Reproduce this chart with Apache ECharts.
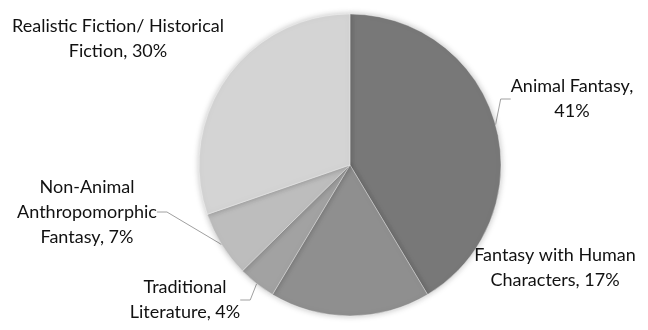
<!DOCTYPE html>
<html>
<head>
<meta charset="utf-8">
<script src="https://cdn.jsdelivr.net/npm/echarts@6/dist/echarts.min.js"></script>
<style>
  html, body { margin: 0; padding: 0; background: #ffffff; }
  #chart { width: 648px; height: 330px; }
</style>
</head>
<body>
<div id="chart"></div>
<script>
// Data (clockwise from 12 o'clock)
const categories = [
  'Animal Fantasy',
  'Fantasy with Human Characters',
  'Traditional Literature',
  'Non-Animal Anthropomorphic Fantasy',
  'Realistic Fiction/ Historical Fiction'
];
const values = [41, 17, 4, 7, 30];
// Label texts as shown (line breaks as in the picture)
const labelTexts = [
  'Animal Fantasy,\n41%',
  'Fantasy with Human\nCharacters, 17%',
  'Traditional\nLiterature, 4%',
  'Non-Animal\nAnthropomorphic\nFantasy, 7%',
  'Realistic Fiction/ Historical\nFiction, 30%'
];

// Styling
const sliceColors = ['#787878', '#8f8f8f', '#a2a2a2', '#bdbdbd', '#d4d4d4'];
const showLines = [true, false, true, true, false];
const labelSpots = [
  { x: 572, y: 99 },
  { x: 555, y: 268 },
  { x: 185, y: 300 },
  { x: 87, y: 212 },
  { x: 118, y: 39 }
];

const chart = echarts.init(document.getElementById('chart'), null, { renderer: 'canvas' });

const data = categories.map((name, i) => ({
  name: name,
  value: values[i],
  itemStyle: { color: sliceColors[i] },
  label: { formatter: labelTexts[i] },
  labelLine: { show: showLines[i] }
}));

chart.setOption({
  animation: false,
  backgroundColor: '#ffffff',
  series: [{
    type: 'pie',
    center: [350, 165],
    radius: 151,
    startAngle: 90,
    clockwise: true,
    data: data,
    itemStyle: {
      borderColor: 'rgba(255,255,255,0.45)',
      borderWidth: 0.8,
      shadowBlur: 6,
      shadowColor: 'rgba(0,0,0,0.25)'
    },
    label: {
      show: true,
      position: 'outside',
      fontFamily: 'Lato',
      fontSize: 18,
      lineHeight: 25,
      color: '#111111',
      align: 'center',
      overflow: 'none'
    },
    labelLine: {
      show: true,
      length: 10,
      length2: 10,
      lineStyle: { color: '#a0a0a0', width: 1 }
    },
    labelLayout: function (params) {
      const s = labelSpots[params.dataIndex];
      return { x: s.x, y: s.y, align: 'center', verticalAlign: 'middle' };
    },
    emphasis: { disabled: true }
  }]
});
</script>
</body>
</html>
